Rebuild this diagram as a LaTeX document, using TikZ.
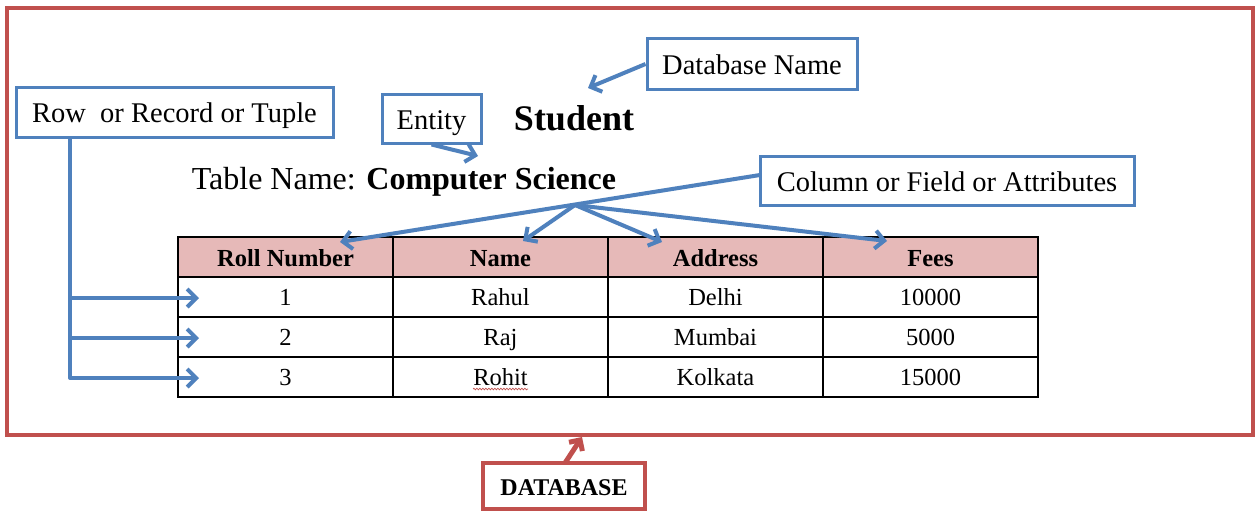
\documentclass[tikz,border=0pt]{standalone}
\usepackage{fontspec}
\setmainfont{Liberation Serif}
\usetikzlibrary{arrows.meta,calc,decorations.pathmorphing}
\definecolor{pptblue}{RGB}{79,129,189}
\definecolor{pptred}{RGB}{192,80,77}
\definecolor{hdrpink}{RGB}{230,185,184}
\begin{document}
\begin{tikzpicture}[x=1pt,y=-1pt,
  lbl/.style={draw=pptblue, line width=3pt, fill=white, inner sep=0pt, text height=21pt, text depth=0pt, font=\fontsize{28.5}{34}\selectfont},
  redbox/.style={draw=pptred, line width=3.5pt, fill=white, inner sep=0pt, text height=18pt, text depth=0pt, font=\fontsize{24}{29}\selectfont\bfseries},
  barrow/.style={draw=pptblue, line width=4pt, line join=round, -{Straight Barb[length=9pt,width=18pt]}},
  rarrow/.style={draw=pptred, line width=5pt, -{Straight Barb[length=8pt,width=16pt]}},
  cell/.style={draw=black, line width=1.5pt, minimum width=215pt, minimum height=40pt, inner sep=0pt, text height=16.5pt, text depth=0pt, font=\fontsize{24.5}{29}\selectfont},
  hcell/.style={cell, fill=hdrpink, text height=18pt, font=\fontsize{24.5}{29}\selectfont\bfseries}]
\useasboundingbox (0,0) rectangle (1260,511);
\fill[white] (0,0) rectangle (1260,511);

% outer database frame
\node[draw=pptred, line width=4pt, minimum width=1246pt, minimum height=427pt, inner sep=0pt] (frame) at (630,221.5) {};

% titles
\node[text height=26pt, text depth=0pt, font=\fontsize{36}{42}\selectfont\bfseries] (student) at (574,117) {Student};
\node[text height=17pt, text depth=0pt, font=\fontsize{32}{38}\selectfont] (tname) at (404,181) {Table Name: \textbf{Computer Science}};

% label boxes
\node[lbl, minimum width=317pt, minimum height=50pt] (row) at (174.5,112) {Row~~or Record or Tuple};
\node[lbl, minimum width=99pt, minimum height=49pt] (entity) at (431.5,118.5) {Entity};
\node[lbl, minimum width=210pt, minimum height=50pt] (dbname) at (752,64) {Database Name};
\node[lbl, minimum width=374pt, minimum height=49pt] (column) at (947,180.5) {Column or Field or Attributes};
\node[redbox, minimum width=162pt, minimum height=46pt] (database) at (564,486) {DATABASE};

% table
\node[hcell] (h1) at (285.5,257) {Roll Number};
\node[hcell] (h2) at (500.5,257) {Name};
\node[hcell] (h3) at (715.5,257) {Address};
\node[hcell] (h4) at (930.5,257) {Fees};
\node[cell] (a1) at (285.5,297) {1};
\node[cell] (a2) at (500.5,297) {Rahul};
\node[cell] (a3) at (715.5,297) {Delhi};
\node[cell] (a4) at (930.5,297) {10000};
\node[cell] (b1) at (285.5,337) {2};
\node[cell] (b2) at (500.5,337) {Raj};
\node[cell] (b3) at (715.5,337) {Mumbai};
\node[cell] (b4) at (930.5,337) {5000};
\node[cell] (c1) at (285.5,377) {3};
\node[cell] (c2) at (500.5,377) {Rohit};
\node[cell] (c3) at (715.5,377) {Kolkata};
\node[cell] (c4) at (930.5,377) {15000};
\draw[pptred, line width=0.7pt, decorate, decoration={snake, amplitude=0.8pt, segment length=3pt}] (473,389) -- (528,389);

% arrow targets
\coordinate (stutip) at (588,88);
\coordinate (enttip) at (478,156);
\coordinate (colsrc) at (760,175);
\coordinate (split) at (575,205);
\coordinate (tRoll) at (340,242);
\coordinate (tName) at (523,241);
\coordinate (tAddr) at (662,242);
\coordinate (tFees) at (887,241);
\coordinate (trunk) at (70,378);
\coordinate (t1) at (199,298);
\coordinate (t2) at (199,338);
\coordinate (t3) at (199,378);
\coordinate (dbtip) at (582,437);
\coordinate (dbsrc) at (565,463);

% connectors
\draw[barrow] (dbname.west) -- (stutip);
\draw[barrow] (entity.south) -- (enttip);
\draw[barrow] (colsrc) -- (tRoll);
\draw[barrow] (split) -- (tName);
\draw[barrow] (split) -- (tAddr);
\draw[barrow] (split) -- (tFees);
\draw[barrow] (trunk |- row.south) -- (trunk) -- (t3);
\draw[barrow] (trunk |- t1) -- (t1);
\draw[barrow] (trunk |- t2) -- (t2);
\draw[rarrow] (dbsrc) -- (dbtip);
\end{tikzpicture}
\end{document}
